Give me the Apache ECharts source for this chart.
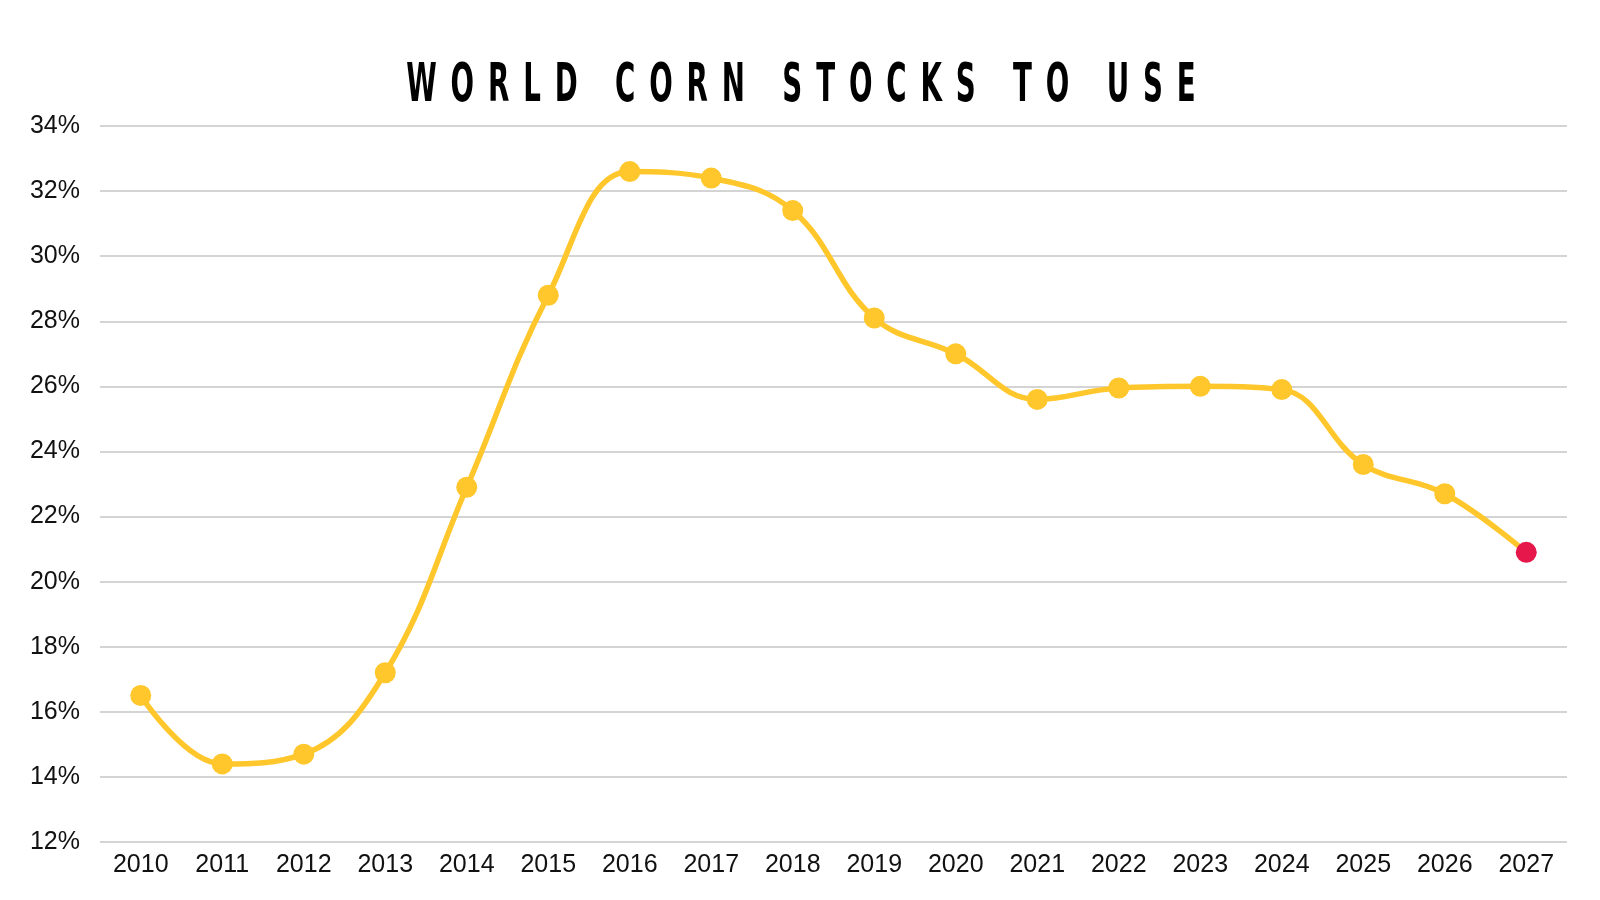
<!DOCTYPE html>
<html lang="en">
<head>
    <meta charset="UTF-8">
    <title>World Corn Stocks to Use</title>
    <style>
        html, body { margin: 0; padding: 0; background: #fff; }
        #main { width: 1600px; height: 900px; }
    </style>
    <script src="https://cdn.jsdelivr.net/npm/echarts@6/dist/echarts.min.js"></script>
</head>
<body>
    <div id="main"></div>
    <script>
        // data
        var years = ['2010', '2011', '2012', '2013', '2014', '2015', '2016', '2017', '2018',
            '2019', '2020', '2021', '2022', '2023', '2024', '2025', '2026', '2027'];
        var stocksToUse = [16.5, 14.4, 14.7, 17.2, 22.9, 28.8, 32.6, 32.4, 31.4,
            28.1, 27.0, 25.6, 25.95, 26.0, 25.9, 23.6, 22.7, 20.9];
        var titleText = 'WORLD CORN STOCKS TO USE';

        var yellow = '#FFC72C';
        var red = '#E5174B';
        var labelFont = '"Liberation Sans", Arial, sans-serif';

        // spread the letters out like the original heading (en spaces)
        var spacedTitle = titleText.split(' ').map(function (w) {
            return w.split('').join('\u2002');
        }).join('\u2002\u2002 ');

        var seriesData = stocksToUse.map(function (v, i) {
            if (i === stocksToUse.length - 1) {
                return { value: v, itemStyle: { color: red } };
            }
            return v;
        });

        var myChart = echarts.init(document.getElementById('main'));
        var option = {
            animation: false,
            backgroundColor: '#fff',
            // condensed heading: squeeze a bold face horizontally
            graphic: [
                {
                    type: 'text',
                    x: 801,
                    y: 87,
                    scaleX: 0.513,
                    style: {
                        text: spacedTitle,
                        font: 'bold 54px "DejaVu Sans", sans-serif',
                        fill: '#000',
                        align: 'center',
                        verticalAlign: 'middle'
                    }
                }
            ],
            grid: {
                left: 100,
                right: 33,
                top: 126,
                bottom: 58,
                containLabel: false
            },
            xAxis: {
                type: 'category',
                data: years,
                boundaryGap: true,
                axisLine: { show: false },
                axisTick: { show: false },
                axisLabel: {
                    color: '#111',
                    fontSize: 25,
                    fontFamily: labelFont,
                    margin: 11
                }
            },
            yAxis: {
                type: 'value',
                min: 12,
                max: 34,
                interval: 2,
                axisLine: { show: false },
                axisTick: { show: false },
                axisLabel: {
                    color: '#111',
                    fontSize: 25,
                    fontFamily: labelFont,
                    margin: 20,
                    formatter: '{value}%'
                },
                splitLine: {
                    lineStyle: { color: '#c6c6c6', width: 1.5 }
                }
            },
            series: [
                {
                    name: 'Stocks to use',
                    type: 'line',
                    data: seriesData,
                    smooth: 0.4,
                    symbol: 'circle',
                    symbolSize: 21,
                    lineStyle: { color: yellow, width: 5.5 },
                    itemStyle: { color: yellow },
                    z: 3
                }
            ]
        };
        myChart.setOption(option);
    </script>
</body>
</html>
